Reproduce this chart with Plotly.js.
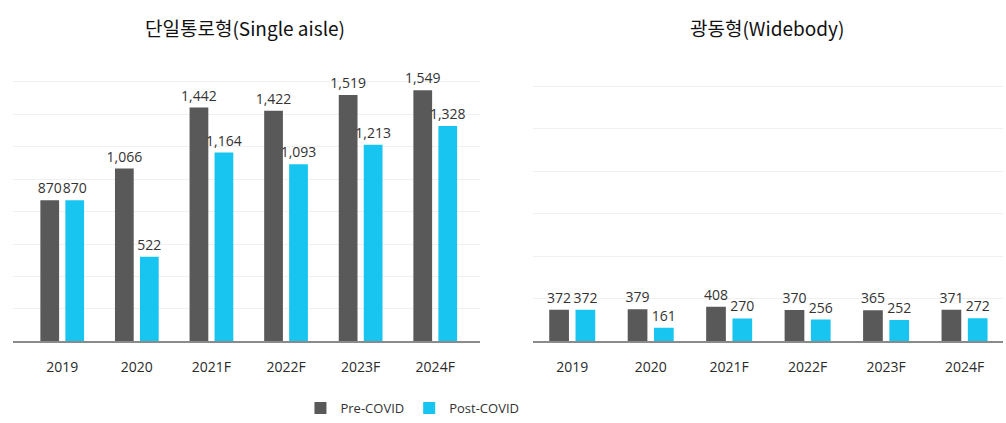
<!DOCTYPE html>
<html>
<head>
<meta charset="utf-8">
<script src="https://cdn.plot.ly/plotly-3.0.1.min.js"></script>
<style>html,body{margin:0;padding:0;background:#fff;}#chart{width:1006px;height:423px;}</style>
</head>
<body>
<div id="chart"></div>
<script>
const categories = ["2019", "2020", "2021F", "2022F", "2023F", "2024F"];
const singlePre = [870, 1066, 1442, 1422, 1519, 1549];
const singlePost = [870, 522, 1164, 1093, 1213, 1328];
const widePre = [372, 379, 408, 370, 365, 371];
const widePost = [372, 161, 270, 256, 252, 272];
const seriesNames = ["Pre-COVID", "Post-COVID"];
const titles = ["단일통로형(Single aisle)", "광동형(Widebody)"];

const darkColor = "#595959";
const cyanColor = "#17c5f0";
const labelFont = {family: "Open Sans, Noto Sans, sans-serif", size: 14, color: "#333"};

function barTrace(y, name, color, xa, ya, showLegend) {
  return {
    type: "bar", x: categories, y: y, name: name,
    marker: {color: color},
    xaxis: xa, yaxis: ya,
    text: y.map(v => v.toLocaleString("en-US")),
    textposition: "outside",
    constraintext: "none",
    cliponaxis: false,
    textfont: labelFont,
    showlegend: showLegend,
    legendgroup: name,
    hoverinfo: "skip"
  };
}

const data = [
  barTrace(singlePre, seriesNames[0], darkColor, "x", "y", true),
  barTrace(singlePost, seriesNames[1], cyanColor, "x", "y", true),
  barTrace(widePre, seriesNames[0], darkColor, "x2", "y2", false),
  barTrace(widePost, seriesNames[1], cyanColor, "x2", "y2", false)
];

const xCommon = {
  type: "category",
  showgrid: false,
  showline: true, linecolor: "#8a8a8a", linewidth: 1.5,
  ticks: "outside", ticklen: 12, tickcolor: "rgba(0,0,0,0)",
  tickfont: {family: "Open Sans, Noto Sans, sans-serif", size: 14, color: "#2a2a2a"},
  zeroline: false, fixedrange: true
};
const yCommon = {
  showticklabels: false, showline: false, zeroline: false,
  showgrid: true, gridcolor: "#f0f0f0", gridwidth: 1, fixedrange: true
};

const layout = {
  width: 1006, height: 423,
  margin: {l: 0, r: 0, t: 0, b: 0},
  paper_bgcolor: "#ffffff", plot_bgcolor: "#ffffff",
  barmode: "group", bargap: 0.33, bargroupgap: 0.25,
  showlegend: true,
  legend: {
    orientation: "h", x: 0.41, xanchor: "center", y: 0.03, yanchor: "middle",
    font: {family: "Open Sans, Noto Sans, sans-serif", size: 13, color: "#333"},
    itemwidth: 30, traceorder: "normal"
  },
  xaxis: Object.assign({}, xCommon, {domain: [13/1006, 480/1006], range: [-0.66, 5.6], anchor: "y"}),
  yaxis: Object.assign({}, yCommon, {domain: [80/423, 357/423], range: [0, 1700], dtick: 200, anchor: "x"}),
  xaxis2: Object.assign({}, xCommon, {domain: [533/1006, 1003/1006], range: [-0.5, 5.49], anchor: "y2"}),
  yaxis2: Object.assign({}, yCommon, {domain: [80/423, 357/423], range: [0, 3240], dtick: 500, anchor: "x2"}),
  annotations: [
    {text: titles[0], xref: "paper", yref: "paper", x: 245/1006, y: (423-28)/423,
     xanchor: "center", yanchor: "middle", showarrow: false,
     font: {family: "Noto Sans CJK KR, sans-serif", size: 19, color: "#111"}},
    {text: titles[1], xref: "paper", yref: "paper", x: 767/1006, y: (423-28)/423,
     xanchor: "center", yanchor: "middle", showarrow: false,
     font: {family: "Noto Sans CJK KR, sans-serif", size: 19, color: "#111"}}
  ]
};

Plotly.newPlot("chart", data, layout, {displayModeBar: false, staticPlot: true});
</script>
</body>
</html>
